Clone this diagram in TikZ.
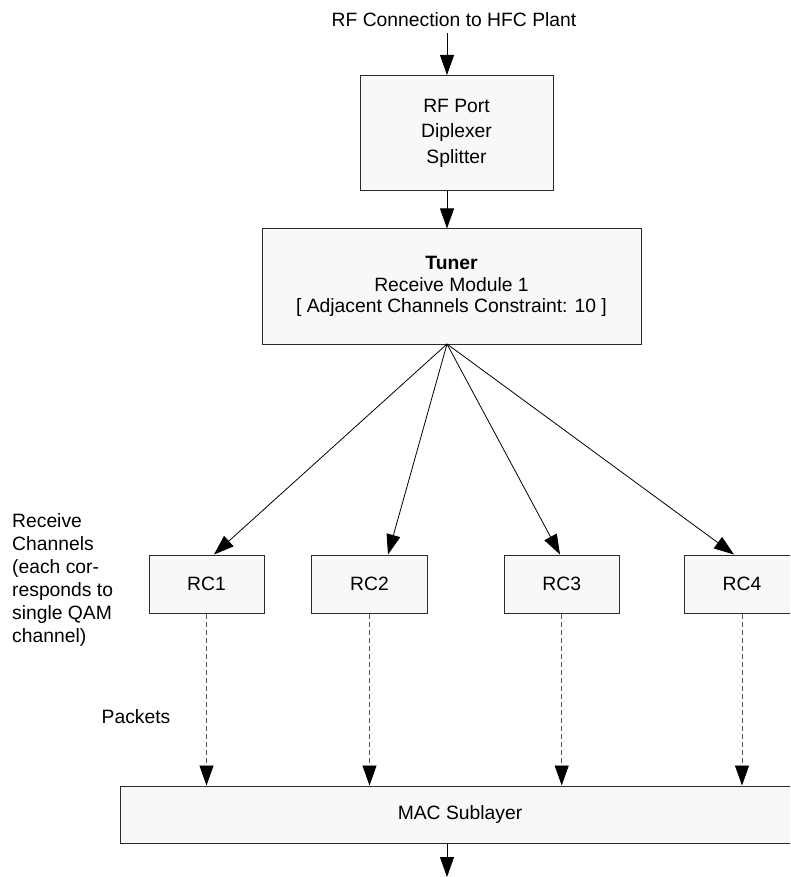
\documentclass[tikz,border=0pt]{standalone}
\usepackage{fontspec}
\setmainfont{Liberation Sans}
\usetikzlibrary{arrows.meta,calc}
\definecolor{boxfill}{HTML}{F8F8F8}
\definecolor{boxline}{HTML}{2A2A2A}
\definecolor{dashline}{HTML}{555555}
\tikzset{
  box/.style={draw=boxline,fill=boxfill,line width=1pt,inner sep=0pt,align=center},
  txt/.style={inner sep=0pt,font=\fontsize{19.3}{23}\selectfont},
  arr/.style={line width=0.8pt,-{Triangle[length=20pt,width=14pt]}},
  darr/.style={draw=dashline,line width=0.9pt,dash pattern=on 5pt off 3pt,-{Triangle[length=20pt,width=14pt,black]}}
}
\begin{document}
\begin{tikzpicture}[x=1pt,y=-1pt]
\useasboundingbox (0,0) rectangle (790,877);
\clip (0,0) rectangle (790,877);
\fill[white] (0,0) rectangle (790,877);
% label
\node[txt] (top) at (454,20) {RF Connection to HFC Plant};
% boxes
\node[box,minimum width=193pt,minimum height=115pt,font=\fontsize{19.3}{25.5}\selectfont] (rf) at (456.5,133) {RF Port\\Diplexer\\Splitter};
\node[box,minimum width=379pt,minimum height=115pt,font=\fontsize{19.3}{21.5}\selectfont] (tuner) at (451.5,286.5) {\textbf{Tuner}\\Receive Module 1\\{[} Adjacent Channels Constraint: 10 ]};
\node[box,minimum width=115pt,minimum height=58pt,font=\fontsize{19.3}{23}\selectfont] (rc1) at (206.5,584) {RC1};
\node[box,minimum width=115.6pt,minimum height=58pt,font=\fontsize{19.3}{23}\selectfont] (rc2) at (369.5,584) {RC2};
\node[box,minimum width=115.3pt,minimum height=58pt,font=\fontsize{19.3}{23}\selectfont] (rc3) at (561.7,584) {RC3};
\node[box,minimum width=116pt,minimum height=58pt,font=\fontsize{19.3}{23}\selectfont] (rc4) at (742,584) {RC4};
\node[box,minimum width=680pt,minimum height=57pt,font=\fontsize{19.3}{23}\selectfont] (mac) at (460,814.5) {MAC Sublayer};
% side texts
\node[txt,align=left,anchor=west] (side) at (12,580) {Receive\\Channels\\(each cor-\\responds to\\single QAM\\channel)};
\node[txt] (pk) at (136,717) {Packets};
% connectors
\coordinate (fan) at (447,344);
\coordinate (out) at (447,877);
\draw[arr,shorten <=6pt] (top.south -| fan) -- (rf.north -| fan);
\draw[arr] (rf.south -| fan) -- (tuner.north -| fan);
\draw[arr] (fan) -- ($(rc1.north)+(7.5,0)$);
\draw[arr] (fan) -- ($(rc2.north)+(18.5,0)$);
\draw[arr] (fan) -- ($(rc3.north)+(-1.7,0)$);
\draw[arr] (fan) -- ($(rc4.north)+(-8,0)$);
\foreach \r in {rc1,rc2,rc3,rc4}{
  \draw[darr] (\r.south) -- (\r.south |- mac.north);
}
\draw[arr] (mac.south -| fan) -- (out);
\end{tikzpicture}
\end{document}
